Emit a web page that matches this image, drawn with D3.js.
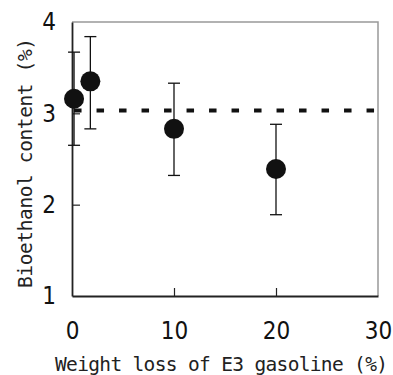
<!DOCTYPE html>
<html>
<head>
<meta charset="utf-8">
<script src="https://cdn.jsdelivr.net/npm/d3@7"></script>
<style>
  body { margin: 0; background: #fff; }
  svg { display: block; }
</style>
</head>
<body>
<svg id="chart"></svg>
<script>
// values
const weightLoss = [0.2, 1.8, 10, 20];
const ethanol = [3.16, 3.35, 2.83, 2.39];
const errUpper = [3.67, 3.84, 3.33, 2.88];
const errLower = [2.65, 2.83, 2.32, 1.89];
const reference = 3.03;
const xTicks = [0, 10, 20, 30];
const yTicks = [1, 2, 3, 4];

const width = 393, height = 375;
const margin = { top: 22, right: 15, bottom: 79, left: 72 };

const svg = d3.select("#chart")
    .attr("width", width)
    .attr("height", height);

const x = d3.scaleLinear().domain([0, 30]).range([margin.left, width - margin.right]);
const y = d3.scaleLinear().domain([1, 4]).range([height - margin.bottom, margin.top]);

// frame (top/right grey)
svg.append("path")
    .attr("d", `M${x(0)},${y(4)}H${x(30)}V${y(1)}`)
    .attr("fill", "none")
    .attr("stroke", "#999")
    .attr("stroke-width", 1.5);

// left & bottom axes, ticks pointing in
const xAxis = svg.append("g")
    .attr("transform", `translate(0,${y(1)})`)
    .call(d3.axisBottom(x).tickValues(xTicks).tickFormat(d3.format("d"))
      .tickSize(-8).tickPadding(26).tickSizeOuter(0));
const yAxis = svg.append("g")
    .attr("transform", `translate(${x(0)},0)`)
    .call(d3.axisLeft(y).tickValues(yTicks).tickFormat(d3.format("d"))
      .tickSize(-8).tickPadding(16).tickSizeOuter(0));

[xAxis, yAxis].forEach(g => {
  g.select(".domain").attr("stroke", "#222").attr("stroke-width", 1.8);
  g.selectAll(".tick line").attr("stroke", "#222").attr("stroke-width", 1.2);
  g.selectAll(".tick text")
      .attr("fill", "#111")
      .attr("font-family", "'Liberation Sans Narrow', 'DejaVu Sans Condensed', sans-serif")
      .attr("font-size", 24);
});
// hide the tick marks at the frame corners
xAxis.selectAll(".tick").filter(d => d === 0 || d === 30).select("line").remove();
yAxis.selectAll(".tick").filter(d => d === 1 || d === 4).select("line").remove();

// reference dashed line
svg.append("line")
    .attr("x1", x(0.2)).attr("x2", x(30))
    .attr("y1", y(reference)).attr("y2", y(reference))
    .attr("stroke", "#111")
    .attr("stroke-width", 4)
    .attr("stroke-dasharray", "7.5,15");

const pts = weightLoss.map((d, i) => ({ x: d, y: ethanol[i], hi: errUpper[i], lo: errLower[i] }));

const err = svg.append("g")
    .attr("stroke", "#111")
    .attr("stroke-width", 1.3)
    .selectAll("g")
    .data(pts)
    .join("g");

err.append("line")
    .attr("x1", d => x(d.x)).attr("x2", d => x(d.x))
    .attr("y1", d => y(d.hi)).attr("y2", d => y(d.lo));
err.append("line")
    .attr("x1", d => x(d.x) - 6).attr("x2", d => x(d.x) + 6)
    .attr("y1", d => y(d.hi)).attr("y2", d => y(d.hi));
err.append("line")
    .attr("x1", d => x(d.x) - 6).attr("x2", d => x(d.x) + 6)
    .attr("y1", d => y(d.lo)).attr("y2", d => y(d.lo));

svg.append("g")
    .selectAll("circle")
    .data(pts)
    .join("circle")
    .attr("cx", d => x(d.x))
    .attr("cy", d => y(d.y))
    .attr("r", 10)
    .attr("fill", "#111");

// axis titles
svg.append("text")
    .attr("x", 55)
    .attr("y", 371)
    .attr("textLength", 333)
    .attr("lengthAdjust", "spacing")
    .attr("font-family", "'DejaVu Sans Mono', monospace")
    .attr("font-size", 19.5)
    .attr("fill", "#222")
    .text("Weight loss of E3 gasoline (%)");

svg.append("text")
    .attr("transform", "translate(32,288) rotate(-90)")
    .attr("textLength", 250)
    .attr("lengthAdjust", "spacing")
    .attr("font-family", "'DejaVu Sans Mono', monospace")
    .attr("font-size", 19.5)
    .attr("fill", "#222")
    .text("Bioethanol content (%)");
</script>
</body>
</html>
